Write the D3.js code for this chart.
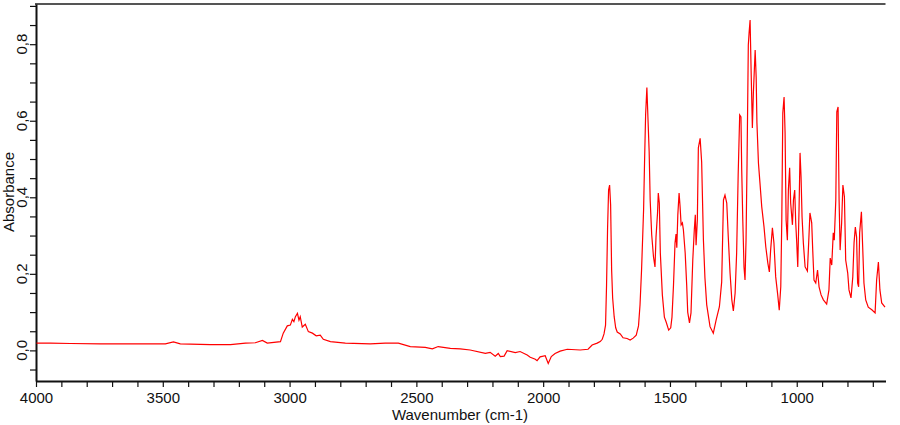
<!DOCTYPE html>
<html>
<head>
<meta charset="utf-8">
<script src="https://cdn.jsdelivr.net/npm/d3@7"></script>
<style>
  html, body { margin: 0; padding: 0; background: #fff; }
  svg { display: block; }
  text { font-family: Arial, "Liberation Sans", sans-serif; }
</style>
</head>
<body>
<svg id="chart" width="900" height="425"></svg>
<script>
// Wavenumber (cm-1) of sampled points
const wavenumber = [
  3998, 3943, 3864, 3746, 3628, 3490, 3458, 3431, 3312, 3233, 3174, 3135, 3107, 3088, 3036,
  3025, 3009, 2997, 2989, 2983, 2977, 2969, 2963, 2958, 2950, 2938, 2926, 2910, 2895, 2879,
  2867, 2839, 2780, 2682, 2623, 2571, 2524, 2465, 2437, 2414, 2366, 2327, 2288, 2228, 2209,
  2189, 2177, 2169, 2154, 2142, 2110, 2091, 2063, 2051, 2031, 2024, 2012, 1992, 1980, 1968,
  1953, 1933, 1905, 1854, 1823, 1807, 1787, 1775, 1767, 1760, 1754, 1750, 1746, 1742, 1738,
  1734, 1730, 1726, 1720, 1714, 1708, 1696, 1685, 1669, 1657, 1645, 1633, 1624, 1618, 1612,
  1608, 1604, 1600, 1596, 1591, 1587, 1582, 1578, 1572, 1565, 1559, 1555, 1549, 1546, 1542,
  1538, 1530, 1522, 1515, 1505, 1497, 1492, 1486, 1480, 1476, 1473, 1469, 1464, 1460, 1456,
  1451, 1447, 1440, 1434, 1430, 1423, 1417, 1410, 1404, 1400, 1397, 1392, 1388, 1381, 1375,
  1368, 1362, 1355, 1342, 1329, 1318, 1305, 1296, 1289, 1283, 1276, 1270, 1263, 1256, 1250,
  1243, 1237, 1231, 1225, 1220, 1217, 1213, 1208, 1204, 1200, 1196, 1191, 1188, 1184, 1180,
  1175, 1171, 1164, 1160, 1157, 1151, 1145, 1138, 1129, 1122, 1114, 1108, 1103, 1096, 1090,
  1083, 1075, 1069, 1063, 1059, 1055, 1050, 1046, 1042, 1037, 1033, 1028, 1024, 1017, 1013,
  1008, 1004, 1000, 996, 991, 987, 983, 979, 974, 967, 958, 952, 948, 941, 937,
  932, 925, 918, 912, 904, 895, 882, 873, 868, 862, 856, 852, 846, 842, 837,
  833, 829, 823, 818, 812, 807, 799, 794, 786, 779, 774, 769, 764, 760, 756,
  752, 745, 740, 735, 728, 718, 704, 691, 685, 678, 672, 665, 652
];
// Absorbance at each sampled point
const absorbance = [
  0.019, 0.019, 0.018, 0.017, 0.017, 0.017, 0.022, 0.017, 0.015, 0.015, 0.019, 0.020, 0.026, 0.019, 0.023,
  0.045, 0.064, 0.066, 0.081, 0.075, 0.088, 0.097, 0.079, 0.088, 0.061, 0.068, 0.049, 0.045, 0.038, 0.040,
  0.029, 0.023, 0.019, 0.017, 0.019, 0.019, 0.010, 0.008, 0.004, 0.010, 0.005, 0.004, 0.001, -0.008, -0.005,
  -0.015, -0.008, -0.016, -0.015, -0.001, -0.006, -0.003, -0.012, -0.018, -0.023, -0.027, -0.017, -0.014, -0.034, -0.016,
  -0.008, -0.002, 0.003, 0.001, 0.003, 0.014, 0.019, 0.023, 0.029, 0.043, 0.066, 0.171, 0.320, 0.419, 0.432,
  0.380, 0.210, 0.137, 0.088, 0.059, 0.048, 0.043, 0.033, 0.031, 0.027, 0.032, 0.040, 0.064, 0.119, 0.210,
  0.288, 0.367, 0.498, 0.615, 0.687, 0.611, 0.519, 0.393, 0.302, 0.245, 0.218, 0.296, 0.359, 0.411, 0.385,
  0.255, 0.145, 0.087, 0.074, 0.053, 0.059, 0.087, 0.171, 0.281, 0.304, 0.268, 0.354, 0.411, 0.375, 0.328,
  0.333, 0.315, 0.255, 0.171, 0.100, 0.072, 0.098, 0.236, 0.315, 0.354, 0.275, 0.341, 0.529, 0.554, 0.492,
  0.288, 0.189, 0.119, 0.062, 0.045, 0.079, 0.114, 0.179, 0.393, 0.406, 0.385, 0.296, 0.202, 0.132, 0.103,
  0.150, 0.255, 0.458, 0.615, 0.610, 0.471, 0.346, 0.218, 0.184, 0.288, 0.489, 0.798, 0.829, 0.863, 0.732,
  0.581, 0.673, 0.785, 0.714, 0.594, 0.489, 0.437, 0.375, 0.322, 0.270, 0.228, 0.205, 0.262, 0.320, 0.281,
  0.192, 0.145, 0.105, 0.166, 0.341, 0.620, 0.662, 0.568, 0.341, 0.288, 0.419, 0.477, 0.385, 0.328, 0.393,
  0.419, 0.333, 0.281, 0.218, 0.367, 0.516, 0.453, 0.348, 0.281, 0.218, 0.207, 0.296, 0.359, 0.333, 0.262,
  0.184, 0.176, 0.210, 0.166, 0.145, 0.132, 0.121, 0.158, 0.241, 0.223, 0.307, 0.288, 0.393, 0.623, 0.636,
  0.393, 0.262, 0.333, 0.432, 0.401, 0.236, 0.202, 0.158, 0.137, 0.192, 0.281, 0.322, 0.296, 0.176, 0.166,
  0.307, 0.362, 0.270, 0.176, 0.132, 0.113, 0.106, 0.098, 0.184, 0.231, 0.158, 0.124, 0.113
];
const xTickLabels = [4000, 3500, 3000, 2500, 2000, 1500, 1000];
const yTickLabels = [0.0, 0.2, 0.4, 0.6, 0.8];
const xTitle = "Wavenumber (cm-1)";
const yTitle = "Absorbance";

const svg = d3.select("#chart");
const L = 36, R = 885.5, T = 4, B = 381;

const x = d3.scaleLinear().domain([4000, 650]).range([L, R]);
const y = d3.scaleLinear().domain([-0.08, 0.905]).range([B, T]);

svg.append("rect").attr("width", 900).attr("height", 425).attr("fill", "#fff");

// top border
svg.append("line")
  .attr("x1", L - 1).attr("x2", R).attr("y1", T).attr("y2", T)
  .attr("stroke", "#555").attr("stroke-width", 2);

// x axis
const xMinor = d3.range(700, 4001, 100);
const xAxis = d3.axisBottom(x)
  .tickValues(xMinor)
  .tickSize(6)
  .tickSizeOuter(0)
  .tickFormat(d => xTickLabels.includes(d) ? String(d) : "");
const gx = svg.append("g").attr("transform", `translate(0,${B})`).call(xAxis);
gx.select(".domain").attr("stroke", "#111").attr("stroke-width", 2);
gx.selectAll(".tick line").attr("stroke", "#111").attr("stroke-width", 1.2);
gx.selectAll(".tick text")
  .attr("y", 22).attr("dy", 0)
  .attr("font-size", 15).attr("fill", "#111")
  .style("font-family", "Arial, 'Liberation Sans', sans-serif");

// y axis
const yMinor = d3.range(-1, 19).map(i => +(i * 0.05).toFixed(2));
const yAxis = d3.axisLeft(y)
  .tickValues(yMinor)
  .tickSize(6)
  .tickSizeOuter(0)
  .tickFormat("");
const gy = svg.append("g").attr("transform", `translate(${L},0)`).call(yAxis);
gy.select(".domain").attr("stroke", "#111").attr("stroke-width", 2);
gy.selectAll(".tick line").attr("stroke", "#111").attr("stroke-width", 1.2);

// rotated y tick labels with comma decimal
svg.append("g").selectAll("text").data(yTickLabels).join("text")
  .attr("transform", d => `translate(26.5,${y(d)}) rotate(-90)`)
  .attr("text-anchor", "middle")
  .attr("font-size", 15).attr("fill", "#111")
  .text(d => d.toFixed(1).replace(".", ","));

// axis titles
svg.append("text")
  .attr("x", 460).attr("y", 420)
  .attr("text-anchor", "middle").attr("font-size", 15).attr("fill", "#111")
  .text(xTitle);
svg.append("text")
  .attr("transform", "translate(14,192) rotate(-90)")
  .attr("text-anchor", "middle").attr("font-size", 15).attr("fill", "#111")
  .text(yTitle);

// spectrum
const pts = wavenumber.map((w, i) => [w, absorbance[i]]);
const line = d3.line().x(d => x(d[0])).y(d => y(d[1]));
svg.append("path")
  .datum(pts)
  .attr("d", line)
  .attr("fill", "none")
  .attr("stroke", "#ff0000")
  .attr("stroke-width", 1.2)
  .attr("stroke-linejoin", "miter");
</script>
</body>
</html>
